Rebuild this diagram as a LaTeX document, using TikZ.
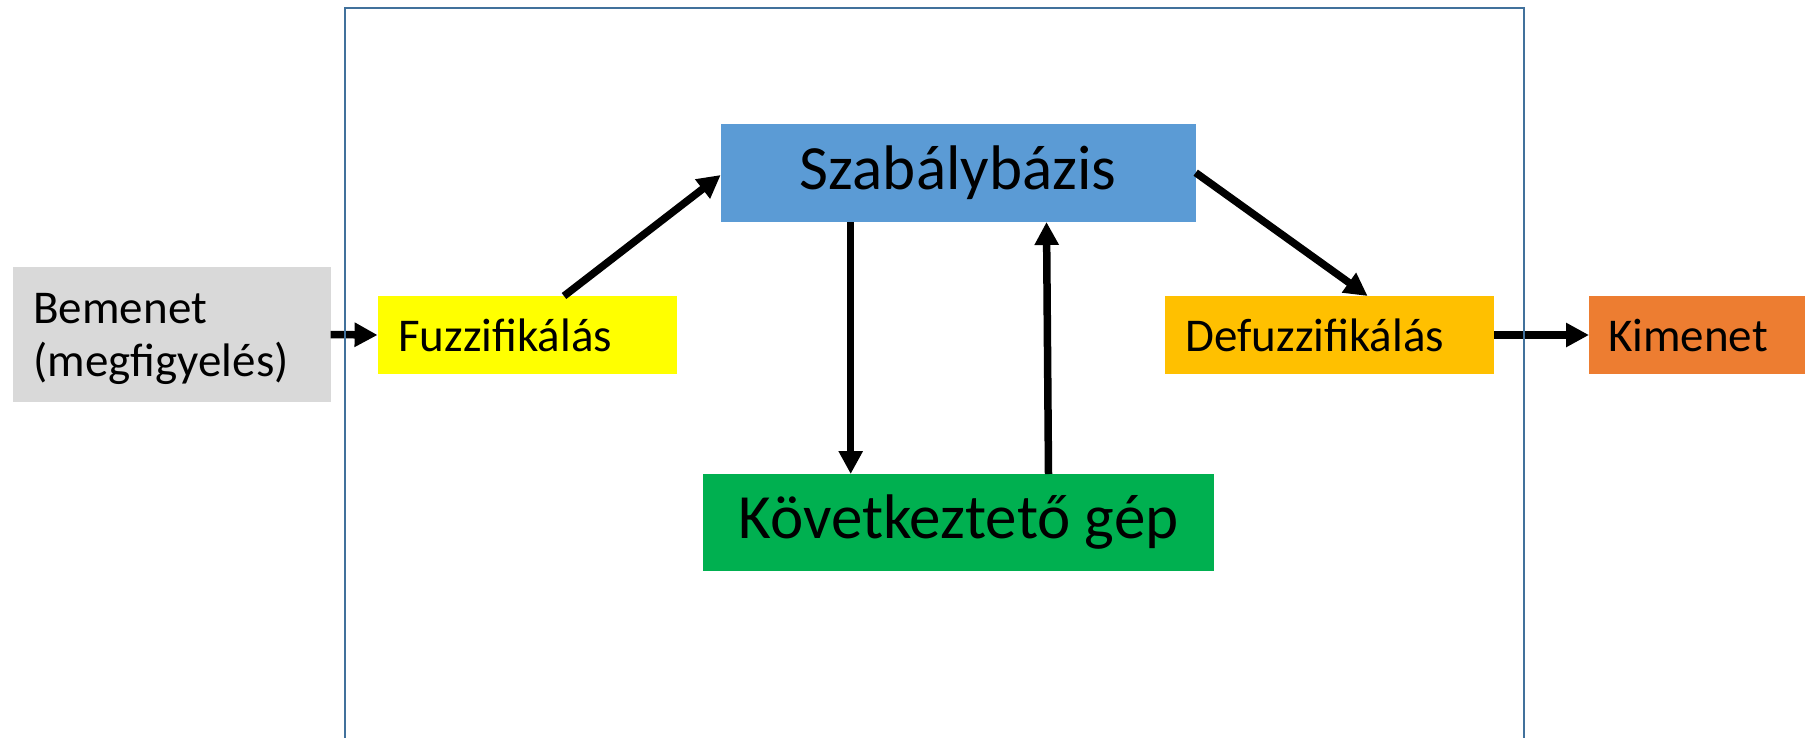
\documentclass[tikz,border=0pt]{standalone}
\usepackage{fontspec}
\setmainfont{Carlito}
\usetikzlibrary{arrows.meta,calc}
\definecolor{cgray}{HTML}{D9D9D9}
\definecolor{cyellow}{HTML}{FFFF00}
\definecolor{cblue}{HTML}{5B9BD5}
\definecolor{cgreen}{HTML}{00B050}
\definecolor{cgold}{HTML}{FFC000}
\definecolor{corange}{HTML}{ED7D31}
\definecolor{cframe}{HTML}{41719C}
\begin{document}
\begin{tikzpicture}[x=1pt,y=-1pt,
  box/.style={anchor=north west, inner ysep=0pt, outer sep=0pt, font=\fontsize{47}{53}\selectfont},
  lbox/.style={box, align=left, inner xsep=20.7pt},
  cbox/.style={box, align=center, inner xsep=0pt, font=\fontsize{63}{70}\selectfont},
  arr/.style={line width=7.5pt, -{Triangle[length=23pt,width=23pt]}}]
\useasboundingbox[fill=white] (0,0) rectangle (1805,737);
\clip (0,0) rectangle (1805,737);

\node[lbox, fill=cgray, text width=276.6pt, minimum height=135pt] (bem) at (12.7,267) {\rule{0pt}{40pt}Bemenet\\(megfigyelés)};
\node[lbox, fill=cyellow, text width=257.6pt, minimum height=78pt] (fuzz) at (377.6,296) {Fuzzifikálás};
\node[cbox, fill=cblue, minimum width=475pt, minimum height=98pt] (szab) at (720.7,124) {Szabálybázis};
\node[cbox, fill=cgreen, minimum width=511pt, minimum height=97pt] (kov) at (703,474) {Következtető gép};
\node[lbox, fill=cgold, text width=287.6pt, minimum height=78pt] (defuzz) at (1165,296) {Defuzzifikálás};
\node[lbox, inner xsep=19pt, fill=corange, text width=178pt, minimum height=78pt] (kim) at (1589,296) {Kimenet};

\draw[arr] (bem.east) -- (fuzz.west);
\draw[arr] ($(fuzz.north west)+(186.4,0)$) -- ($(szab.north west)+(0,51)$);
\draw[arr] ($(szab.south west)+(130,0)$) -- ($(kov.north west)+(147.7,0)$);
\draw[arr] ($(kov.north west)+(345.5,0)$) -- ($(szab.south west)+(325.8,0)$);
\draw[arr] ($(szab.north east)+(0,48.7)$) -- ($(defuzz.north west)+(202.6,0)$);
\draw[arr] (defuzz.east) -- (kim.west);

\draw[cframe, line width=2pt] (345,760) -- (345,8) -- (1524,8) -- (1524,760);
\end{tikzpicture}
\end{document}
